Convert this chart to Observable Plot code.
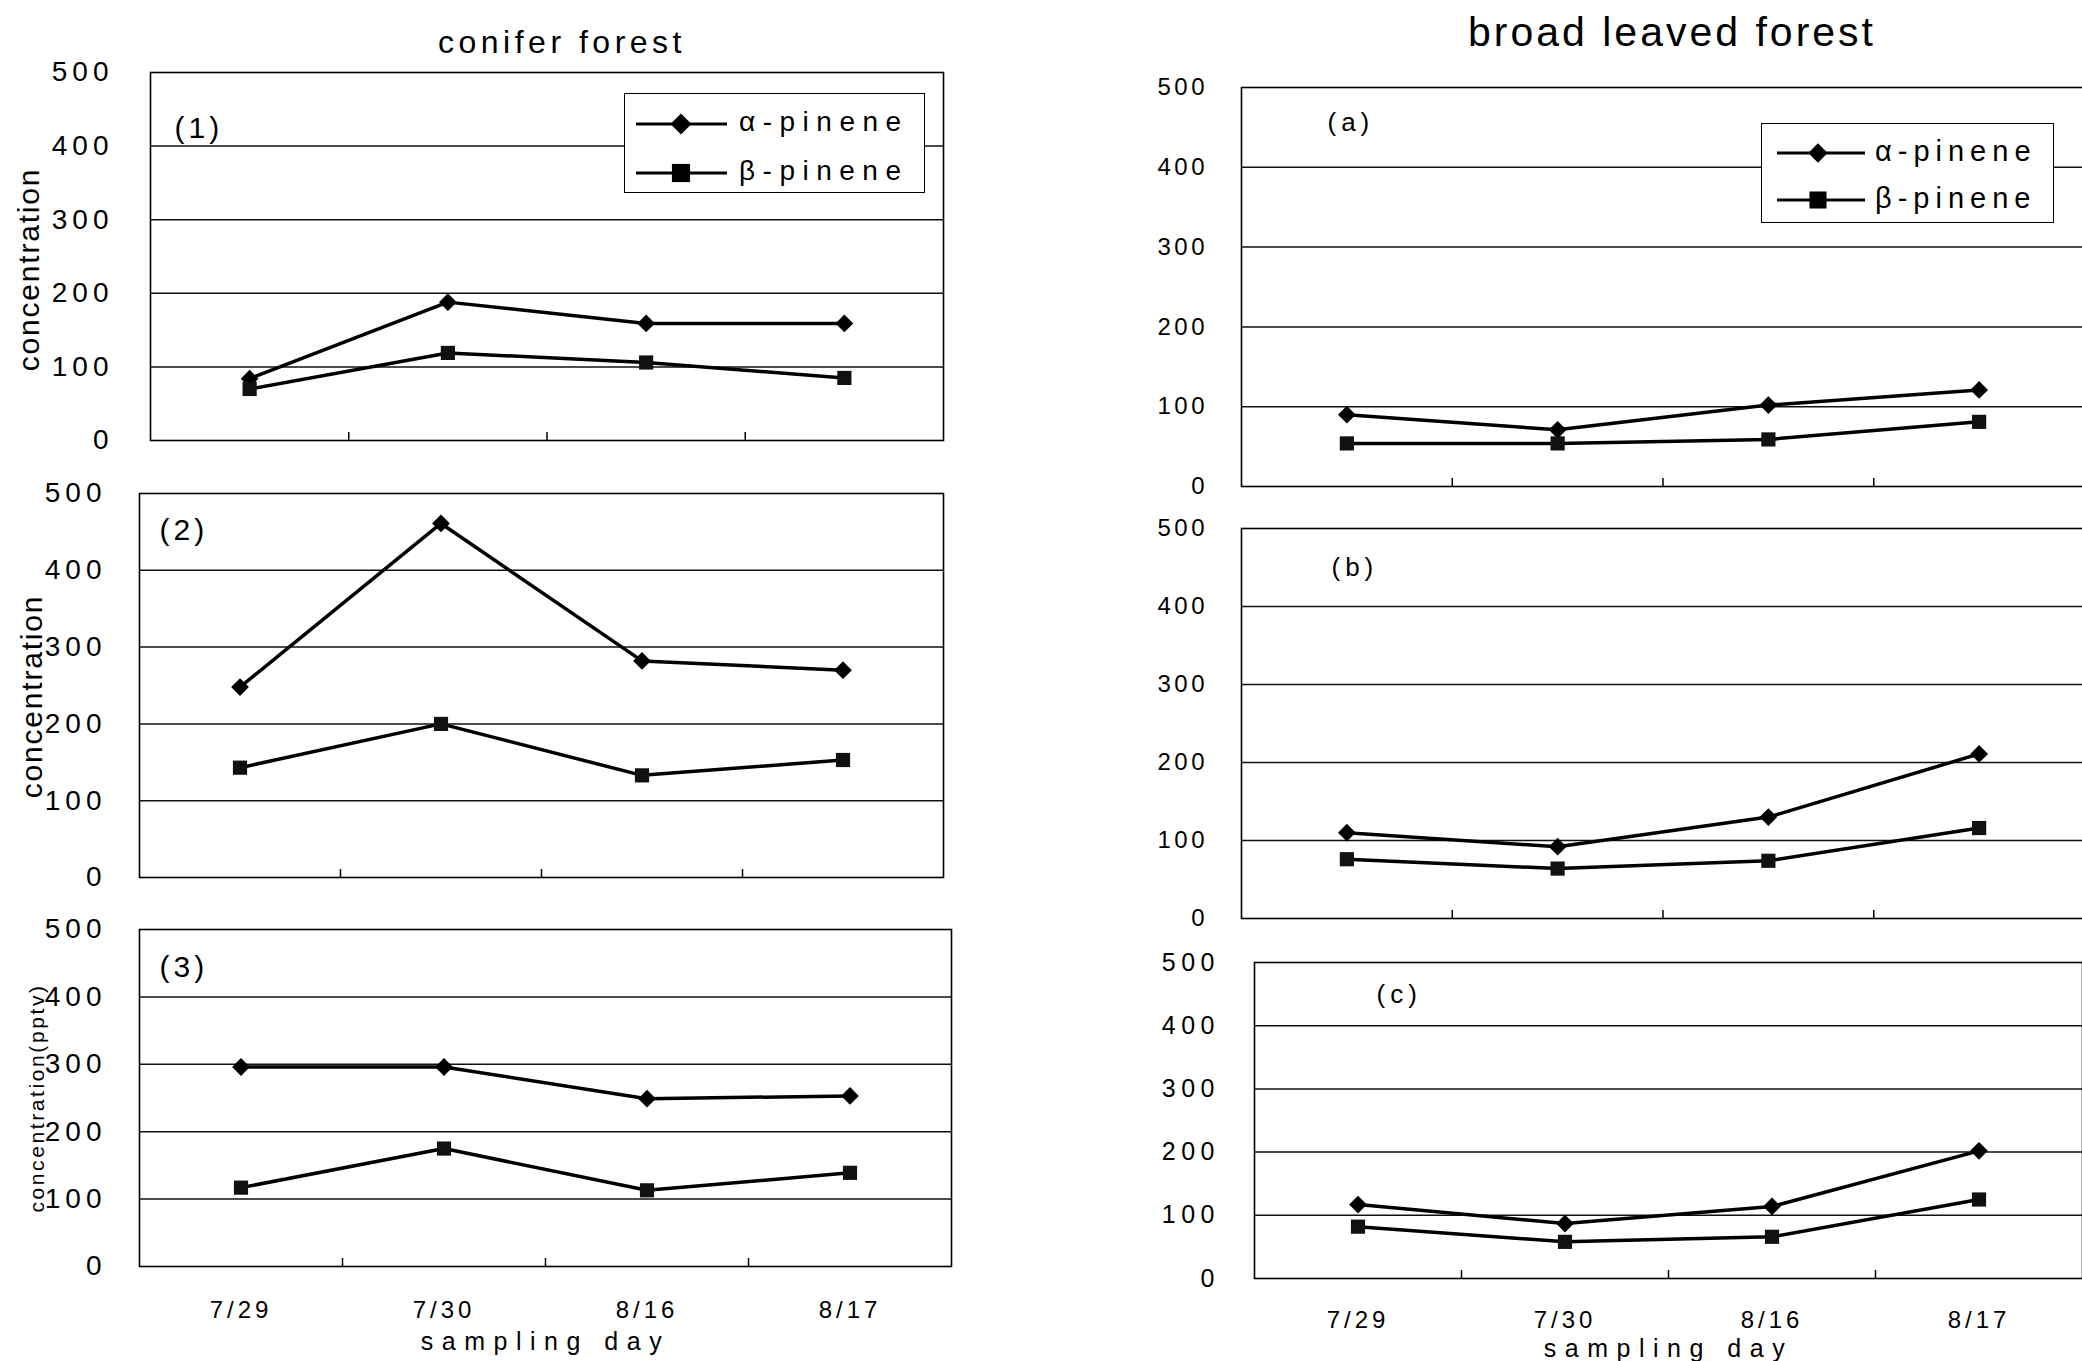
<!DOCTYPE html>
<html><head><meta charset="utf-8">
<script src="https://cdn.jsdelivr.net/npm/d3@7"></script>
<script src="https://cdn.jsdelivr.net/npm/@observablehq/plot@0.6"></script>
<style>
html,body{margin:0;padding:0;background:#fff;overflow:hidden;}
#root{position:relative;width:2082px;height:1361px;overflow:hidden;background:#fff;font-family:"Liberation Sans",Arial,sans-serif;color:#000;}
.title{position:absolute;white-space:nowrap;line-height:1;transform:translateX(-50%);}
.legend{position:absolute;background:#fff;border:1.5px solid #000;box-sizing:border-box;}
.legend span{position:absolute;white-space:nowrap;}
</style></head><body><div id="root"></div>
<script>
// ---- data ----
const days = ["7/29", "7/30", "8/16", "8/17"];
const series = ["α-pinene", "β-pinene"];
const yTicks = [0, 100, 200, 300, 400, 500];
const columnTitles = ["conifer forest", "broad leaved forest"];
const panelLabels = ["(1)", "(2)", "(3)", "(a)", "(b)", "(c)"];
const yTitles = ["concentration", "concentration", "concentration(pptv)"];
const xTitle = "sampling day";

const conifer1Alpha = [84, 188, 159, 159];
const conifer1Beta  = [70, 119, 106, 85];
const conifer2Alpha = [248, 461, 282, 270];
const conifer2Beta  = [143, 200, 133, 153];
const conifer3Alpha = [296, 296, 249, 253];
const conifer3Beta  = [117, 175, 113, 139];
const broadAAlpha = [90, 71, 102, 121];
const broadABeta  = [54, 54, 59, 81];
const broadBAlpha = [110, 92, 130, 211];
const broadBBeta  = [76, 64, 74, 116];
const broadCAlpha = [117, 87, 114, 202];
const broadCBeta  = [82, 58, 66, 125];

// ---- layout ----
const FONT = '"Liberation Sans", Arial, sans-serif';
const panels = [
  {alpha: conifer1Alpha, beta: conifer1Beta, label: panelLabels[0], yTitle: yTitles[0],
   x0: 150, x1: 943, y0: 72, y1: 440, svgLeft: 0, svgRight: 980, bottom: false,
   yFont: 28, yLs: 5, yPad: 37, lFont: 30, lLs: 4, ldx: 24, ldy: 56,
   tFont: 30, tLs: 1.8, tdx: -121, tdy: 13},
  {alpha: conifer2Alpha, beta: conifer2Beta, label: panelLabels[1], yTitle: yTitles[1],
   x0: 139, x1: 943, y0: 493, y1: 877, svgLeft: 0, svgRight: 980, bottom: false,
   yFont: 28, yLs: 5, yPad: 33, lFont: 30, lLs: 4, ldx: 20, ldy: 37,
   tFont: 30, tLs: 1.8, tdx: -107, tdy: 11},
  {alpha: conifer3Alpha, beta: conifer3Beta, label: panelLabels[2], yTitle: yTitles[2],
   x0: 139, x1: 951, y0: 929, y1: 1266, svgLeft: 0, svgRight: 980, bottom: true, sdy: 75, xPad: 34.4,
   yFont: 28, yLs: 5, yPad: 33, lFont: 30, lLs: 4, ldx: 20, ldy: 38,
   tFont: 21, tLs: 2.6, tdx: -102, tdy: 0},
  {alpha: broadAAlpha, beta: broadABeta, label: panelLabels[3],
   x0: 1241, x1: 2084, y0: 87, y1: 486, svgLeft: 1100, svgRight: 2110, bottom: false,
   yFont: 24, yLs: 3.5, yPad: 33.5, lFont: 26, lLs: 5, ldx: 86, ldy: 35},
  {alpha: broadBAlpha, beta: broadBBeta, label: panelLabels[4],
   x0: 1241, x1: 2084, y0: 528, y1: 918, svgLeft: 1100, svgRight: 2110, bottom: false,
   yFont: 24, yLs: 3.5, yPad: 33.5, lFont: 26, lLs: 5, ldx: 90, ldy: 39},
  {alpha: broadCAlpha, beta: broadCBeta, label: panelLabels[5],
   x0: 1254, x1: 2082, y0: 962, y1: 1278, svgLeft: 1100, svgRight: 2110, bottom: true, sdy: 70, xPad: 32.4,
   yFont: 25, yLs: 5.5, yPad: 34.5, lFont: 26, lLs: 5, ldx: 122, ldy: 32}
];

const root = document.getElementById("root");

function spaceText(s, content, ls) {
  s.selectAll("text").filter(function () { return this.textContent === content; })
    .style("letter-spacing", ls + "px");
}

function drawPanel(p) {
  const fw = p.x1 - p.x0, fh = p.y1 - p.y0;
  const mt = 20, mb = p.bottom ? 110 : 20;
  const ml = p.x0 - p.svgLeft;
  const width = p.svgRight - p.svgLeft;
  const mr = width - ml - fw;
  const height = mt + fh + mb;
  const rows = [];
  days.forEach((d, i) => {
    rows.push({i, day: d, v: p.alpha[i], s: series[0]});
    rows.push({i, day: d, v: p.beta[i], s: series[1]});
  });
  const boundaries = days.slice(1).map((d, i) => i + 0.5);
  const tickLen = 8 / fh * 500;
  const marks = [
    Plot.ruleY(yTicks.filter(v => v > 0 && v < 500), {stroke: "#111", strokeWidth: 1.5}),
    Plot.frame({stroke: "#000", strokeWidth: 1.6}),
    Plot.ruleX(boundaries, {x: d => d, y1: 0, y2: tickLen, stroke: "#000", strokeWidth: 1.5}),
    Plot.axisY({ticks: yTicks, tickSize: 0, tickPadding: p.yPad, fontSize: p.yFont, label: null}),
    Plot.line(rows, {x: "i", y: "v", z: "s", stroke: "#000", strokeWidth: 3.5, strokeLinejoin: "round"}),
    Plot.dot(rows.filter(r => r.s === series[0]), {x: "i", y: "v", symbol: "diamond2", r: 8, fill: "#000", stroke: "none"}),
    Plot.dot(rows.filter(r => r.s === series[1]), {x: "i", y: "v", symbol: "square", r: 8, fill: "#111", stroke: "none"}),
    Plot.text([p.label], {frameAnchor: "top-left", dx: p.ldx, dy: p.ldy, textAnchor: "start", lineAnchor: "middle", fontSize: p.lFont})
  ];
  if (p.yTitle) {
    marks.push(Plot.text([p.yTitle], {frameAnchor: "left", dx: p.tdx, dy: p.tdy, rotate: -90, textAnchor: "middle", lineAnchor: "middle", fontSize: p.tFont}));
  }
  if (p.bottom) {
    marks.push(Plot.axisX({ticks: days.map((d, i) => i), tickFormat: i => days[i], tickSize: 0, tickPadding: p.xPad, fontSize: 24, label: null}));
    marks.push(Plot.text([xTitle], {frameAnchor: "bottom", dy: p.sdy, textAnchor: "middle", lineAnchor: "middle", fontSize: 25}));
  }
  const svg = Plot.plot({
    width, height, marginLeft: ml, marginRight: mr, marginTop: mt, marginBottom: mb,
    x: {domain: [-0.5, days.length - 0.5], axis: null},
    y: {domain: [0, 500], axis: null},
    style: {fontFamily: FONT, background: "transparent", color: "#000", overflow: "visible", maxWidth: "none"},
    marks
  });
  svg.style.position = "absolute";
  svg.style.left = p.svgLeft + "px";
  svg.style.top = (p.y0 - mt) + "px";
  const s = d3.select(svg);
  s.selectAll('g[aria-label="y-axis tick label"]').style("letter-spacing", p.yLs + "px").attr("fill", "#000");
  s.selectAll('g[aria-label="x-axis tick label"]').style("letter-spacing", "4px").attr("fill", "#000");
  spaceText(s, p.label, p.lLs);
  if (p.yTitle) spaceText(s, p.yTitle, p.tLs);
  if (p.bottom) spaceText(s, xTitle, 8.5);
  root.appendChild(svg);
}
panels.forEach(drawPanel);

// column titles
function title(text, cx, top, fs, ls) {
  const d = document.createElement("div");
  d.className = "title";
  d.textContent = text;
  Object.assign(d.style, {left: cx + "px", top: top + "px", fontSize: fs + "px", letterSpacing: ls + "px"});
  root.appendChild(d);
}
title(columnTitles[0], 562, 26, 32, 4.5);
title(columnTitles[1], 1672, 12, 41, 3);

// legends
function legend(cfg) {
  const div = document.createElement("div");
  div.className = "legend";
  Object.assign(div.style, {left: cfg.x + "px", top: cfg.y + "px", width: cfg.w + "px", height: cfg.h + "px"});
  series.forEach((name, k) => {
    const cy = cfg.rows[k];
    const svg = d3.create("svg").attr("width", cfg.w).attr("height", 40)
      .style("position", "absolute").style("left", "0px").style("top", (cy - 20) + "px");
    svg.append("line").attr("x1", cfg.l0).attr("x2", cfg.l1).attr("y1", 20).attr("y2", 20)
      .attr("stroke", "#000").attr("stroke-width", 3);
    svg.append("path")
      .attr("d", d3.symbol(k === 0 ? d3.symbolDiamond2 : d3.symbolSquare, k === 0 ? cfg.dSize : cfg.sSize)())
      .attr("transform", `translate(${cfg.m},20)`).attr("fill", "#000");
    div.appendChild(svg.node());
    const sp = document.createElement("span");
    sp.textContent = name;
    Object.assign(sp.style, {left: cfg.t + "px", top: (cy - cfg.fs / 2 - 2) + "px", fontSize: cfg.fs + "px", lineHeight: cfg.fs + "px", letterSpacing: cfg.ls + "px"});
    div.appendChild(sp);
  });
  root.appendChild(div);
}
legend({x: 624, y: 93, w: 301, h: 100, rows: [30, 79], l0: 11, l1: 102, m: 56, t: 114, fs: 28, ls: 7.5, dSize: 280, sSize: 330});
legend({x: 1761, y: 123, w: 293, h: 100, rows: [29, 76], l0: 15, l1: 103, m: 56, t: 113, fs: 29, ls: 6, dSize: 240, sSize: 290});
</script>
</body></html>
